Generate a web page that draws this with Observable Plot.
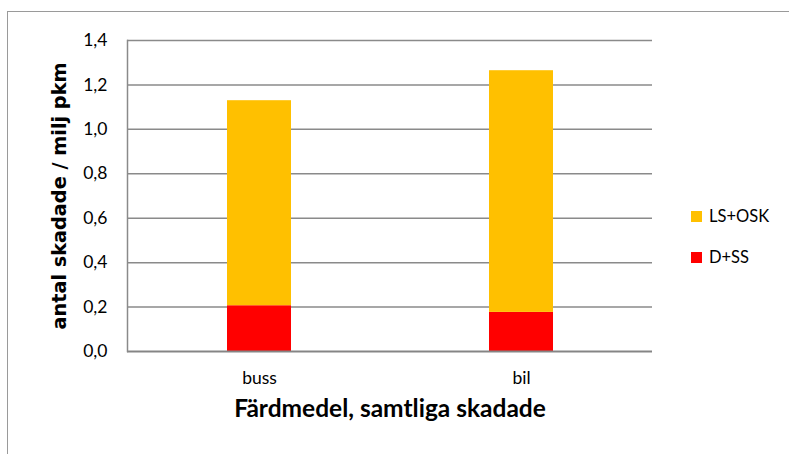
<!DOCTYPE html>
<html>
<head>
<meta charset="utf-8">
<script src="https://cdn.jsdelivr.net/npm/d3@7"></script>
<script src="https://cdn.jsdelivr.net/npm/@observablehq/plot@0.6"></script>
<style>
  html, body { margin: 0; padding: 0; background: #fff; overflow: hidden; }
  #wrap { position: relative; width: 789px; height: 454px; font-family: Lato, "Open Sans", sans-serif; }
  #border { position: absolute; left: 7px; top: 11px; width: 820px; height: 500px; border: 1.5px solid #9a9a9a; box-sizing: border-box; pointer-events: none; }
  #legend { position: absolute; left: 691px; top: 206px; font-size: 16.5px; color: #000; }
  .item { display: flex; align-items: center; height: 20px; margin-bottom: 21px; }
  .sw { width: 11px; height: 11px; margin-right: 7px; }
</style>
</head>
<body>
<div id="wrap">
  <div id="border"></div>
  <div id="chart"></div>
  <div id="legend"></div>
</div>
<script>
const categories = ["buss", "bil"];
const seriesNames = ["D+SS", "LS+OSK"];
const seriesColors = ["#ff0000", "#ffc000"];
const dss = [0.206, 0.176];
const lsosk = [0.923, 1.088];
const yTicks = [0, 0.2, 0.4, 0.6, 0.8, 1.0, 1.2, 1.4];
const xTitle = "Färdmedel, samtliga skadade";
const yTitle = "antal skadade / milj pkm";

const data = [];
categories.forEach((c, i) => {
  data.push({cat: c, series: seriesNames[0], value: dss[i]});
  data.push({cat: c, series: seriesNames[1], value: lsosk[i]});
});

const fmt = d => d3.format(".1f")(d).replace(".", ",");

const chart = Plot.plot({
  width: 789,
  height: 454,
  marginLeft: 127,
  marginRight: 137,
  marginTop: 40,
  marginBottom: 103,
  style: {fontFamily: "Lato, 'Open Sans', sans-serif", fontSize: "17.5px", color: "#000", background: "transparent"},
  x: {domain: categories, paddingInner: 0.756, paddingOuter: 0.378, label: null, tickSize: 0, tickPadding: 20},
  y: {domain: [0, 1.4], ticks: yTicks, tickFormat: fmt, label: null, tickSize: 0, tickPadding: 20},
  color: {domain: seriesNames, range: seriesColors},
  marks: [
    Plot.ruleY(yTicks.filter(d => d > 0), {stroke: "#8a8a8a", strokeWidth: 1.5, strokeOpacity: 1}),
    Plot.barY(data, {x: "cat", y: "value", fill: "series", order: seriesNames}),
    Plot.ruleY([0], {stroke: "#858585", strokeWidth: 2}),
    Plot.frame({anchor: "left", stroke: "#8a8a8a", strokeWidth: 1.5}),
    Plot.text([xTitle], {frameAnchor: "bottom", dy: 65, fontSize: 24.5, fontWeight: "bold", fill: "#000"}),
    Plot.text([yTitle], {frameAnchor: "left", dx: -68, rotate: -90, textAnchor: "middle", fontSize: 19.3, fontWeight: "bold", fontFamily: "'DejaVu Sans', Verdana, sans-serif", fill: "#000"})
  ]
});
document.getElementById("chart").appendChild(chart);

const legend = document.getElementById("legend");
[1, 0].forEach(i => {
  const it = document.createElement("div");
  it.className = "item";
  const sw = document.createElement("div");
  sw.className = "sw";
  sw.style.background = seriesColors[i];
  const t = document.createElement("span");
  t.textContent = seriesNames[i];
  it.appendChild(sw);
  it.appendChild(t);
  legend.appendChild(it);
});
</script>
</body>
</html>
